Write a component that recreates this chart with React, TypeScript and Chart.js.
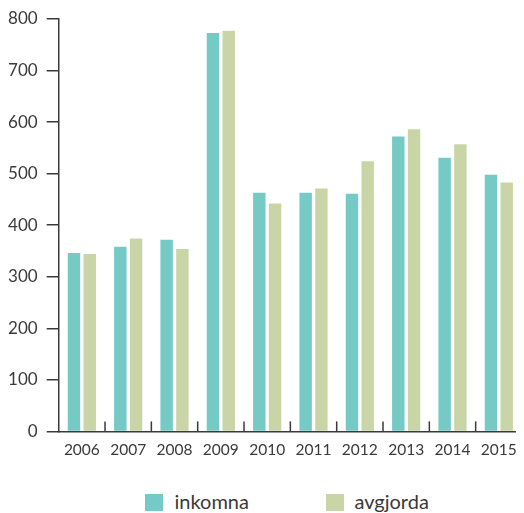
import React, { useEffect, useRef } from "react";
import { Chart, registerables } from "chart.js";

Chart.register(...registerables);

const categories = ["2006", "2007", "2008", "2009", "2010", "2011", "2012", "2013", "2014", "2015"];
const inkomna = [346, 358, 372, 773, 463, 463, 461, 572, 531, 498];
const avgjorda = [344, 374, 354, 777, 442, 471, 524, 586, 557, 483];
const seriesNames = ["inkomna", "avgjorda"];
const seriesColors = ["#75CAC6", "#CAD5A7"];
const yMin = 0;
const yMax = 800;
const yStep = 100;

const FONT = "Lato, 'Open Sans', sans-serif";
const TEXT = "#3a3a3a";
const AXIS = "#3a3a3a";

const xTicksPlugin = {
  id: "xTicksUp",
  afterDatasetsDraw(chart: any) {
    const x = chart.scales.x;
    const y = chart.scales.y;
    const ctx = chart.ctx;
    const n = categories.length;
    const w = x.getPixelForValue(1) - x.getPixelForValue(0);
    const start = x.getPixelForValue(0) - w / 2;
    const base = y.getPixelForValue(0);
    ctx.save();
    ctx.strokeStyle = AXIS;
    ctx.lineWidth = 1.5;
    for (let i = 1; i <= n; i++) {
      const px = start + i * w;
      ctx.beginPath();
      ctx.moveTo(px, base);
      ctx.lineTo(px, base - 10);
      ctx.stroke();
    }
    ctx.restore();
  },
};

export default function App() {
  const ref = useRef<HTMLCanvasElement | null>(null);

  useEffect(() => {
    if (!ref.current) return;
    const chart = new Chart(ref.current, {
      type: "bar",
      data: {
        labels: categories,
        datasets: [
          {
            label: seriesNames[0],
            data: inkomna,
            backgroundColor: seriesColors[0],
            categoryPercentage: 0.68,
            barPercentage: 0.79,
          },
          {
            label: seriesNames[1],
            data: avgjorda,
            backgroundColor: seriesColors[1],
            categoryPercentage: 0.68,
            barPercentage: 0.79,
          },
        ],
      },
      options: {
        animation: false,
        responsive: true,
        maintainAspectRatio: false,
        layout: { padding: { top: 11, right: 2, bottom: 0, left: 0 } },
        plugins: {
          legend: { display: false },
          tooltip: { enabled: false },
        },
        scales: {
          x: {
            grid: { display: false, drawTicks: false },
            border: { display: true, color: AXIS, width: 1.5 },
            ticks: {
              color: TEXT,
              font: { family: FONT, size: 15.5 },
              padding: 9,
              maxRotation: 0,
            },
            afterFit(scale: any) {
              scale.paddingLeft = 0;
              scale.paddingRight = 0;
            },
          },
          y: {
            min: yMin,
            max: yMax,
            grid: {
              drawOnChartArea: false,
              drawTicks: true,
              tickLength: 12,
              color: AXIS,
              lineWidth: 1.5,
            },
            border: { display: true, color: AXIS, width: 1.5 },
            ticks: {
              stepSize: yStep,
              color: TEXT,
              font: { family: FONT, size: 17 },
              padding: 9,
            },
            afterFit(scale: any) {
              scale.paddingTop = 0;
              scale.paddingBottom = 0;
              scale.width = 50.7;
            },
          },
        },
      },
      plugins: [xTicksPlugin],
    });
    return () => chart.destroy();
  }, []);

  const legendText: React.CSSProperties = {
    position: "absolute",
    fontFamily: FONT,
    fontSize: 20,
    color: TEXT,
    lineHeight: "20px",
    top: 483,
  };
  const box = (left: number, color: string): React.CSSProperties => ({
    position: "absolute",
    left,
    top: 486,
    width: 18,
    height: 17,
    background: color,
  });

  return (
    <div style={{ position: "relative", width: 516, height: 505 }}>
      <div style={{ position: "relative", width: 516, height: 460 }}>
        <canvas ref={ref} />
      </div>
      <div style={box(137, seriesColors[0])} />
      <div style={{ ...legendText, left: 166.5 }}>{seriesNames[0]}</div>
      <div style={box(318, seriesColors[1])} />
      <div style={{ ...legendText, left: 346.5 }}>{seriesNames[1]}</div>
    </div>
  );
}
